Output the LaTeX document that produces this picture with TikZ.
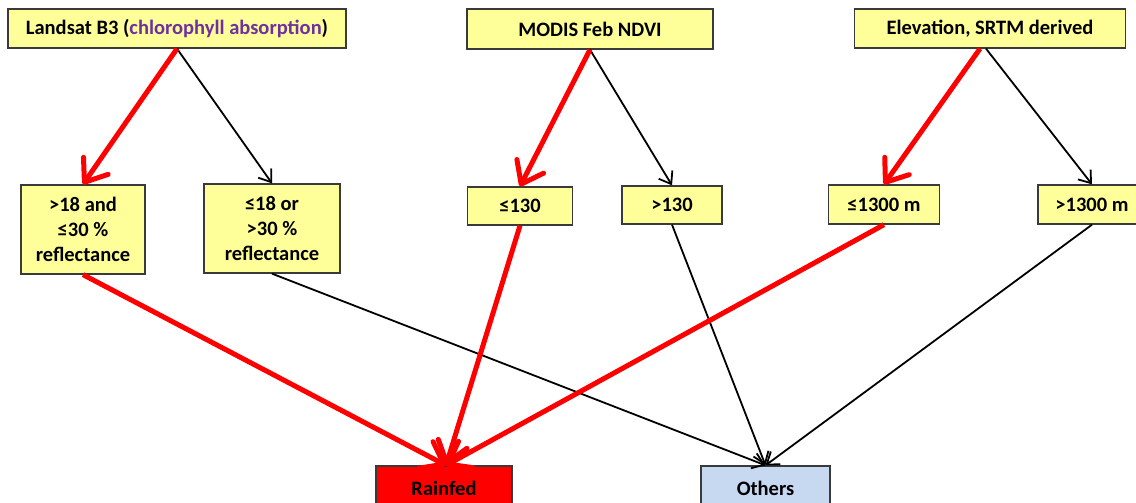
\documentclass[tikz,border=0pt]{standalone}
\usepackage{fontspec}
\setmainfont{Carlito}
\usetikzlibrary{arrows.meta}
\definecolor{boxyellow}{HTML}{FFFF99}
\definecolor{boxedge}{HTML}{3A3A3A}
\definecolor{optpurple}{HTML}{7030A0}
\definecolor{otherblue}{HTML}{C6D9F1}
\begin{document}
\begin{tikzpicture}[x=1pt,y=-1pt,
  box/.style={draw=boxedge, fill=boxyellow, line width=1.3pt, inner sep=0pt,
    align=center, font=\fontsize{20.5}{25}\selectfont\bfseries},
  nolink/.style={draw=black, line width=1.8pt, -{Straight Barb[length=11pt,width=16pt]}},
  yeslink/.style={draw=red, line width=5pt, -{Straight Barb[length=20pt,width=30pt,round]}},
]
\useasboundingbox (0,0) rectangle (1136,503);
\clip (0,0) rectangle (1136,503);
\fill[white] (0,0) rectangle (1136,503);

% input layers
\node[box, minimum width=338pt, minimum height=39pt] (landsat) at (177,28.5)
  {Landsat B3 (\textcolor{optpurple}{chlorophyll absorption})};
\node[box, minimum width=246pt, minimum height=40pt] (modis) at (590,29)
  {MODIS Feb NDVI};
\node[box, minimum width=271pt, minimum height=39pt] (elev) at (990,28.5)
  {Elevation, SRTM derived};

% thresholds
\node[box, minimum width=124pt, minimum height=89pt] (b3in) at (83,229.5)
  {>18 and\\≤30 \%\\reflectance};
\node[box, minimum width=136pt, minimum height=89pt] (b3out) at (272,228.5)
  {≤18 or\\>30 \%\\reflectance};
\node[box, minimum width=105pt, minimum height=38pt] (ndviin) at (520,206)
  {≤130};
\node[box, minimum width=100pt, minimum height=38pt] (ndviout) at (672,205)
  {>130};
\node[box, minimum width=111pt, minimum height=39pt] (elevin) at (884,204.5)
  {≤1300 m};
\node[box, minimum width=108pt, minimum height=39pt] (elevout) at (1092,204.5)
  {>1300 m};

% classes
\node[box, fill=red, minimum width=136pt, minimum height=60pt] (rainfed) at (444,496)
  {\raisebox{15pt}{Rainfed}};
\node[box, fill=otherblue, minimum width=129pt, minimum height=60pt] (others) at (765.5,496)
  {\raisebox{15pt}{Others}};

% branches out of each layer
\draw[nolink] (landsat.south) -- (b3out.north);
\draw[nolink] (modis.south) -- (ndviout.north);
\draw[nolink] ([xshift=-4pt]elev.south) -- (elevout.north);
\draw[nolink] (b3out.south) -- (others.north);
\draw[nolink] (ndviout.south) -- (others.north);
\draw[nolink] (elevout.south) -- (others.north);

\draw[yeslink] (landsat.south) -- (b3in.north);
\draw[yeslink] (modis.south) -- (ndviin.north);
\draw[yeslink] ([xshift=-10pt]elev.south) -- (elevin.north);
\draw[yeslink] (b3in.south) -- ([xshift=2pt]rainfed.north);
\draw[yeslink] (ndviin.south) -- ([xshift=2pt]rainfed.north);
\draw[yeslink] (elevin.south) -- ([xshift=2pt]rainfed.north);
\end{tikzpicture}
\end{document}
